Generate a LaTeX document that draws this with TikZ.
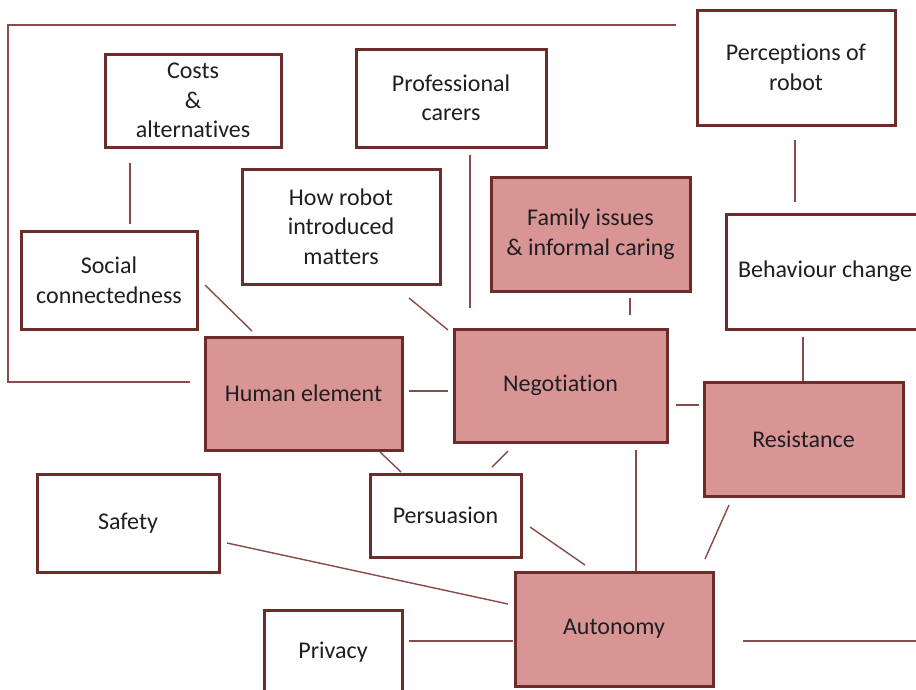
\documentclass[tikz,border=0pt]{standalone}
\usepackage{fontspec}
\setmainfont{Carlito}[Ligatures={NoCommon,NoRare,NoDiscretionary}]
\definecolor{edgebrown}{HTML}{6B2C2A}
\definecolor{linkbrown}{HTML}{8A4A48}
\definecolor{rosefill}{HTML}{D99594}
\definecolor{inkdark}{HTML}{1E1E24}
\tikzset{
  box/.style={draw=edgebrown, line width=3pt, fill=white, align=center,
    inner sep=0pt, text=inkdark, font=\fontsize{24}{29.5}\selectfont},
  keybox/.style={box, fill=rosefill},
  link/.style={draw=linkbrown, line width=1.4pt}
}
\begin{document}
\begin{tikzpicture}[x=1pt,y=-1pt]
\useasboundingbox (0,0) rectangle (916,689);
\clip (0,0) rectangle (916,689);

% outer frame line
\draw[link] (190,382) -- (8,382) -- (8,25) -- (676,25);

% concept boxes
\node[box, minimum width=176, minimum height=93] (costs) at (193,100.5) {Costs\\\&\\alternatives};
\node[box, minimum width=190, minimum height=98] (prof) at (451,98) {Professional\\carers};
\node[box, minimum width=198, minimum height=115] (perc) at (796,67.5) {Perceptions of\\robot};
\node[box, minimum width=198, minimum height=115] (howrobot) at (341,226.5) {How robot\\introduced\\matters};
\node[keybox, minimum width=199, minimum height=114] (family) at (590.5,234) {Family issues\\\& informal caring};
\node[box, minimum width=198, minimum height=115] (behav) at (825,271.5) {Behaviour change};
\node[box, minimum width=176, minimum height=98] (social) at (109,280) {Social\\connectedness};
\node[keybox, minimum width=197, minimum height=113] (human) at (303.5,393.5) {Human element};
\node[keybox, minimum width=213, minimum height=113] (nego) at (560.5,385.5) {Negotiation};
\node[keybox, minimum width=199, minimum height=114] (resist) at (803.5,439) {Resistance};
\node[box, minimum width=151, minimum height=83] (persu) at (445.5,515.5) {Persuasion};
\node[box, minimum width=182, minimum height=98] (safety) at (128,523) {Safety};
\node[keybox, minimum width=198, minimum height=114] (auton) at (614,629) {Autonomy};
\node[box, minimum width=138, minimum height=84] (privacy) at (333,652) {Privacy};

% connector end points (lines stop short of the boxes)
\coordinate (costsA) at (130,163);  \coordinate (costsB) at (130,224);
\coordinate (profA) at (470,155);   \coordinate (profB) at (470,308);
\coordinate (percA) at (795,140);   \coordinate (percB) at (795,202);
\coordinate (socA) at (205,285);    \coordinate (socB) at (252,331);
\coordinate (howA) at (409,298);    \coordinate (howB) at (448,330);
\coordinate (famA) at (630,298);    \coordinate (famB) at (630,315);
\coordinate (humA) at (409,391);    \coordinate (humB) at (448,391);
\coordinate (negA) at (676,405);    \coordinate (negB) at (699,405);
\coordinate (behA) at (803,337);    \coordinate (behB) at (803,381);
\coordinate (hpA) at (380,452);     \coordinate (hpB) at (401,472);
\coordinate (npA) at (508,451);     \coordinate (npB) at (492,467);
\coordinate (safA) at (227,543);    \coordinate (safB) at (508,604);
\coordinate (perA) at (530,527);    \coordinate (perB) at (585,565);
\coordinate (naA) at (636,450);     \coordinate (naB) at (636,571);
\coordinate (resA) at (729,505);    \coordinate (resB) at (705,559);
\coordinate (priA) at (409,641);    \coordinate (priB) at (513,641);
\coordinate (autA) at (743,641);    \coordinate (autB) at (916,641);

\draw[link] (costsA) -- (costsB);
\draw[link] (profA) -- (profB);
\draw[link] (percA) -- (percB);
\draw[link] (socA) -- (socB);
\draw[link] (howA) -- (howB);
\draw[link] (famA) -- (famB);
\draw[link] (humA) -- (humB);
\draw[link] (negA) -- (negB);
\draw[link] (behA) -- (behB);
\draw[link] (hpA) -- (hpB);
\draw[link] (npA) -- (npB);
\draw[link] (safA) -- (safB);
\draw[link] (perA) -- (perB);
\draw[link] (naA) -- (naB);
\draw[link] (resA) -- (resB);
\draw[link] (priA) -- (priB);
\draw[link] (autA) -- (autB);
\end{tikzpicture}
\end{document}
